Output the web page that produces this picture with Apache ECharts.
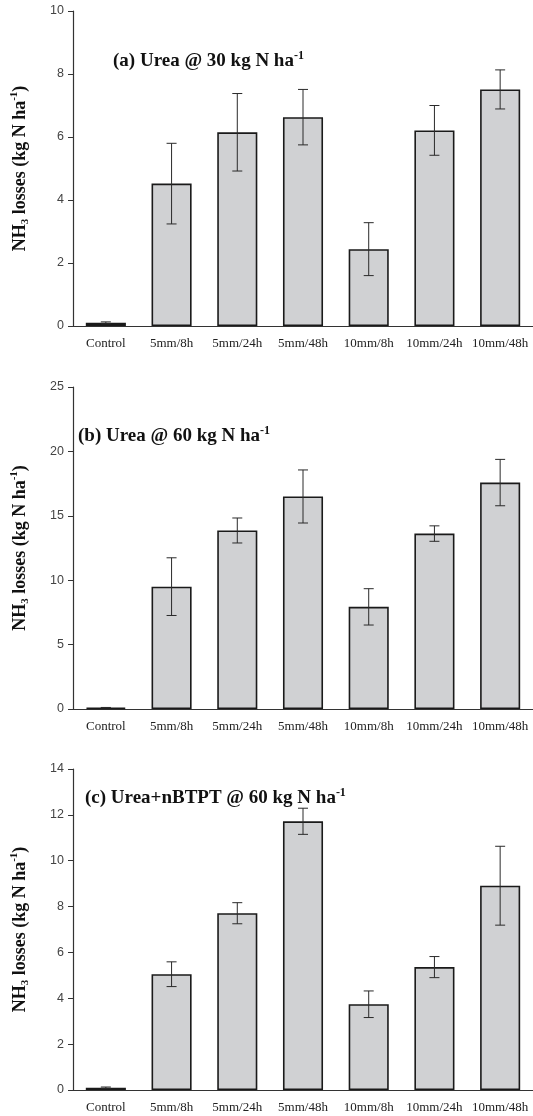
<!DOCTYPE html>
<html>
<head>
<meta charset="utf-8">
<script src="https://cdn.jsdelivr.net/npm/echarts@6/dist/echarts.min.js"></script>
<style>
  html, body { margin: 0; padding: 0; background: #fff; }
  #main { width: 533px; height: 1116px; }
</style>
</head>
<body>
<div id="main"></div>
<script>
// categories
var categories = ['Control', '5mm/8h', '5mm/24h', '5mm/48h', '10mm/8h', '10mm/24h', '10mm/48h'];

// (a) Urea @ 30 kg N ha-1
var lossA = [0.1, 4.52, 6.15, 6.63, 2.44, 6.21, 7.51];
var errA  = [0.03, 1.28, 1.23, 0.88, 0.84, 0.79, 0.62];

// (b) Urea @ 60 kg N ha-1
var lossB = [0.1, 9.5, 13.86, 16.5, 7.93, 13.62, 17.58];
var errB  = [0.02, 2.24, 0.97, 2.06, 1.41, 0.6, 1.8];

// (c) Urea+nBTPT @ 60 kg N ha-1
var lossC = [0.1, 5.05, 7.71, 11.72, 3.74, 5.36, 8.91];
var errC  = [0.03, 0.54, 0.46, 0.57, 0.58, 0.46, 1.72];

// y ticks of each panel
var yTicksA = [0, 2, 4, 6, 8, 10];
var yTicksB = [0, 5, 10, 15, 20, 25];
var yTicksC = [0, 2, 4, 6, 8, 10, 12, 14];

var serif = '"Liberation Serif", "Times New Roman", serif';
var sans = '"Liberation Sans", Arial, sans-serif';

// rich styles: axis name
var richName = {
  b:   { fontFamily: serif, fontWeight: 'bold', fontSize: 18, color: '#111', lineHeight: 22 },
  sup: { fontFamily: serif, fontWeight: 'bold', fontSize: 11, color: '#111', verticalAlign: 'top', lineHeight: 22 },
  sub: { fontFamily: serif, fontWeight: 'bold', fontSize: 11, color: '#111', verticalAlign: 'bottom', lineHeight: 16 }
};
// rich styles: panel titles
var richTitle = {
  b:   { fontFamily: serif, fontWeight: 'bold', fontSize: 19, color: '#111', lineHeight: 22 },
  sup: { fontFamily: serif, fontWeight: 'bold', fontSize: 12, color: '#111', verticalAlign: 'top', lineHeight: 22 }
};

var grids = [
  { left: 73, right: 0, top: 11, height: 315 },
  { left: 73, right: 0, top: 387, height: 322 },
  { left: 73, right: 0, top: 769, height: 321 }
];

function makeX(idx){
  return {
    type: 'category',
    gridIndex: idx,
    data: categories,
    axisLine: { lineStyle: { color: '#333', width: 1.2 } },
    axisTick: { alignWithLabel: true, length: 5, lineStyle: { color: '#333' } },
    axisLabel: { interval: 0, margin: 11, fontFamily: serif, fontSize: 13, color: '#222' }
  };
}

function makeY(idx, ticks){
  return {
    type: 'value',
    gridIndex: idx,
    min: ticks[0],
    max: ticks[ticks.length - 1],
    interval: ticks[1] - ticks[0],
    name: '{b|NH}{sub|3}{b| losses (kg N ha}{sup|-1}{b|)}',
    nameLocation: 'middle',
    nameGap: 42,
    nameTextStyle: { rich: richName },
    axisLine: { show: true, lineStyle: { color: '#333', width: 1.2 } },
    axisTick: { show: true, length: 5, lineStyle: { color: '#333' } },
    axisLabel: { margin: 9, fontFamily: sans, fontSize: 12.5, color: '#444' },
    splitLine: { show: false }
  };
}

// error bars drawn through the axes
function renderErr(params, api){
  var x = api.value(0), v = api.value(1), e = api.value(2);
  var hi = api.coord([x, v + e]);
  var lo = api.coord([x, v - e]);
  var w = 5;
  var st = { stroke: '#2a2a2a', lineWidth: 1 };
  return {
    type: 'group',
    children: [
      { type: 'line', shape: { x1: hi[0], y1: hi[1], x2: lo[0], y2: lo[1] }, style: st },
      { type: 'line', shape: { x1: hi[0] - w, y1: hi[1], x2: hi[0] + w, y2: hi[1] }, style: st },
      { type: 'line', shape: { x1: lo[0] - w, y1: lo[1], x2: lo[0] + w, y2: lo[1] }, style: st }
    ]
  };
}

function errData(vals, errs){
  var out = [];
  for(var i = 0; i < vals.length; i++){
    out.push([i, vals[i], errs[i]]);
  }
  return out;
}

function makeBar(idx, vals){
  return {
    type: 'bar',
    xAxisIndex: idx,
    yAxisIndex: idx,
    data: vals,
    barWidth: '61%',
    itemStyle: { color: '#d0d1d3', borderColor: '#1a1a1a', borderWidth: 1.6 },
    silent: true
  };
}

function makeErr(idx, vals, errs){
  return {
    type: 'custom',
    xAxisIndex: idx,
    yAxisIndex: idx,
    data: errData(vals, errs),
    renderItem: renderErr,
    z: 5,
    silent: true
  };
}

function makeTitle(label, left, top){
  return {
    text: '{b|' + label + '}{sup|-1}',
    left: left,
    top: top,
    padding: 0,
    textStyle: { rich: richTitle }
  };
}

var option = {
  animation: false,
  backgroundColor: '#fff',
  title: [
    makeTitle('(a) Urea @ 30 kg N ha', 113, 50),
    makeTitle('(b) Urea @ 60 kg N ha', 78, 425),
    makeTitle('(c) Urea+nBTPT @ 60 kg N ha', 85, 787)
  ],
  grid: grids,
  xAxis: [makeX(0), makeX(1), makeX(2)],
  yAxis: [makeY(0, yTicksA), makeY(1, yTicksB), makeY(2, yTicksC)],
  series: [
    makeBar(0, lossA), makeErr(0, lossA, errA),
    makeBar(1, lossB), makeErr(1, lossB, errB),
    makeBar(2, lossC), makeErr(2, lossC, errC)
  ]
};

echarts.init(document.getElementById('main')).setOption(option);
</script>
</body>
</html>
